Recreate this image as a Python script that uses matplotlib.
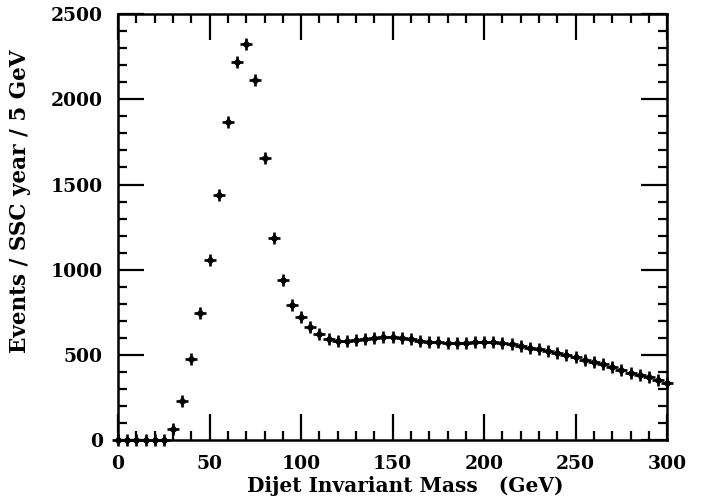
import matplotlib
matplotlib.use("Agg")
import matplotlib.pyplot as plt
from matplotlib.ticker import MultipleLocator

# dijet mass bins (GeV) and events / SSC year / 5 GeV
mass = list(range(0, 305, 5))
events = [0, 0, 0, 0, 0, 0, 65, 230, 475, 745,
          1056, 1438, 1866, 2218, 2324, 2113, 1655, 1185, 940, 795,
          722, 665, 625, 592, 582, 580, 585, 593, 600, 605,
          606, 600, 592, 584, 578, 574, 572, 571, 572, 573,
          574, 573, 570, 563, 553, 542, 532, 521, 510, 498,
          486, 472, 459, 446, 430, 413, 396, 382, 369, 352,
          335]

plt.rcParams['font.family'] = 'DejaVu Serif'
plt.rcParams['font.weight'] = 'bold'

fig = plt.figure(figsize=(7.03, 5.03), dpi=100)
ax = fig.add_axes([0.168, 0.125, 0.781, 0.847])

ax.plot(mass, events, linestyle='none', marker='+', markersize=9,
        markeredgewidth=1.9, color='black', clip_on=False, zorder=3)
ax.plot(mass, events, linestyle='none', marker='D', markersize=3.5,
        color='black', clip_on=False, zorder=3)

ax.set_xlim(0, 300)
ax.set_ylim(0, 2500)
ax.xaxis.set_major_locator(MultipleLocator(50))
ax.xaxis.set_minor_locator(MultipleLocator(10))
ax.yaxis.set_major_locator(MultipleLocator(500))
ax.yaxis.set_minor_locator(MultipleLocator(100))

ax.tick_params(which='both', direction='in', top=True, right=True,
               labelsize=13.5, width=1.6)
ax.tick_params(which='major', length=19, pad=11)
ax.tick_params(which='minor', length=6.5)
for s in ax.spines.values():
    s.set_linewidth(1.8)

ax.set_xlabel('Dijet Invariant Mass   (GeV)', fontsize=14.5, fontweight='bold')
ax.xaxis.set_label_coords(0.523, -0.085)
ax.set_ylabel('Events / SSC year / 5 GeV', fontsize=15.5, fontweight='bold',
              va='center')
ax.yaxis.set_label_coords(-0.178, 0.56)

fig.savefig('out.png', dpi=100)
